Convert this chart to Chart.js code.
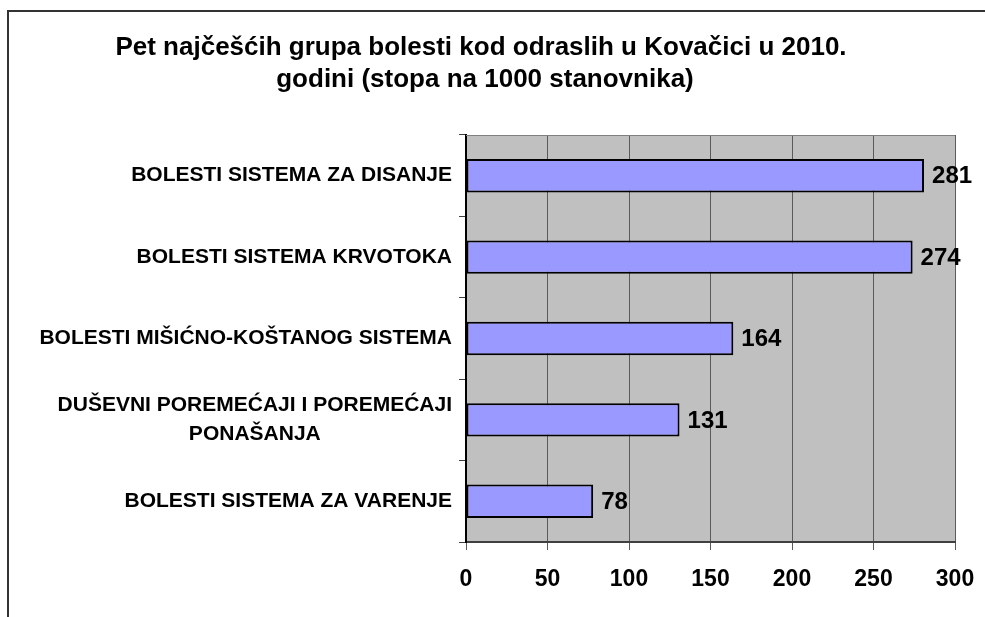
<!DOCTYPE html>
<html>
<head>
<meta charset="utf-8">
<script src="https://cdn.jsdelivr.net/npm/chart.js@4/dist/chart.umd.min.js"></script>
<style>
html,body{margin:0;padding:0;background:#fff;}
canvas{display:block;}
</style>
</head>
<body>
<canvas id="c" width="985" height="617"></canvas>
<script>
const titleLines = ['Pet najčešćih grupa bolesti kod odraslih u Kovačici u 2010.', 'godini (stopa na 1000 stanovnika)'];
const categories = [
  ['BOLESTI SISTEMA ZA DISANJE'],
  ['BOLESTI SISTEMA KRVOTOKA'],
  ['BOLESTI MIŠIĆNO-KOŠTANOG SISTEMA'],
  ['DUŠEVNI POREMEĆAJI I POREMEĆAJI', 'PONAŠANJA'],
  ['BOLESTI SISTEMA ZA VARENJE']
];
const values = [281, 274, 164, 131, 78];
const xTicks = [0, 50, 100, 150, 200, 250, 300];

const FONT = '"Liberation Sans", Arial, sans-serif';

const decor = {
  id: 'decor',
  beforeDraw(chart) {
    const ctx = chart.ctx, a = chart.chartArea;
    ctx.save();
    ctx.fillStyle = '#fff';
    ctx.fillRect(0, 0, chart.width, chart.height);
    ctx.fillStyle = '#C0C0C0';
    ctx.fillRect(a.left, a.top, a.right - a.left, a.bottom - a.top);
    // outer frame
    ctx.strokeStyle = '#333';
    ctx.lineWidth = 2;
    ctx.beginPath();
    ctx.moveTo(8, 617); ctx.lineTo(8, 11); ctx.lineTo(985, 11);
    ctx.stroke();
    // title
    ctx.fillStyle = '#000';
    ctx.font = 'bold 26px ' + FONT;
    ctx.textAlign = 'center';
    ctx.textBaseline = 'middle';
    ctx.fillText(titleLines[0], 481, 48);
    ctx.fillText(titleLines[1], 485, 80);
    ctx.restore();
  },
  beforeDatasetsDraw(chart) {
    const ctx = chart.ctx, a = chart.chartArea;
    ctx.save();
    ctx.strokeStyle = '#808080';
    ctx.lineWidth = 1;
    ctx.beginPath();
    ctx.moveTo(a.left, a.top + 0.5); ctx.lineTo(a.right, a.top + 0.5);
    ctx.stroke();
    // category labels
    const ys = chart.scales.y;
    ctx.fillStyle = '#000';
    ctx.font = 'bold 21px ' + FONT;
    ctx.textAlign = 'center';
    ctx.textBaseline = 'middle';
    const rightX = 452;
    categories.forEach((lines, i) => {
      const cy = ys.getPixelForValue(i);
      const maxW = Math.max(...lines.map(l => ctx.measureText(l).width));
      const cx = rightX - maxW / 2;
      const lh = 29;
      const y0 = cy - (lines.length - 1) * lh / 2;
      lines.forEach((l, k) => ctx.fillText(l, cx, y0 + k * lh));
    });
    ctx.restore();
  },
  afterDatasetsDraw(chart) {
    const ctx = chart.ctx;
    const meta = chart.getDatasetMeta(0);
    ctx.save();
    ctx.fillStyle = '#000';
    ctx.font = 'bold 24px ' + FONT;
    ctx.textAlign = 'left';
    ctx.textBaseline = 'middle';
    meta.data.forEach((bar, i) => {
      ctx.fillText(String(values[i]), bar.x + 8, bar.y + 1);
    });
    ctx.restore();
  }
};

new Chart(document.getElementById('c'), {
  type: 'bar',
  data: {
    labels: categories.map(c => c.join(' ')),
    datasets: [{
      data: values,
      backgroundColor: '#9999FF',
      borderColor: '#000',
      borderWidth: 2,
      borderSkipped: false,
      barPercentage: 0.41,
      categoryPercentage: 1.0
    }]
  },
  options: {
    indexAxis: 'y',
    responsive: false,
    devicePixelRatio: 1,
    animation: false,
    layout: { padding: { top: 135, right: 30, left: 0, bottom: 0 } },
    plugins: { legend: { display: false }, title: { display: false }, tooltip: { enabled: false } },
    scales: {
      x: {
        min: 0, max: 300,
        afterBuildTicks(scale) { scale.ticks = xTicks.map(v => ({ value: v })); },
        afterFit(scale) { scale.height = 75; scale.paddingLeft = 0; scale.paddingRight = 0; },
        grid: { color: '#5a5a5a', lineWidth: 1, drawOnChartArea: true, drawTicks: true, tickLength: 8, tickColor: '#5a5a5a' },
        border: { display: true, color: '#404040', width: 2 },
        ticks: { color: '#000', font: { family: FONT, size: 23, weight: 'bold' }, padding: 16, maxRotation: 0 }
      },
      y: {
        afterFit(scale) { scale.width = 466; scale.paddingTop = 0; scale.paddingBottom = 0; },
        grid: { offset: true, drawOnChartArea: false, drawTicks: true, tickLength: 7, color: '#404040' },
        border: { display: true, color: '#000', width: 2 },
        ticks: { display: false }
      }
    }
  },
  plugins: [decor]
});
</script>
</body>
</html>
